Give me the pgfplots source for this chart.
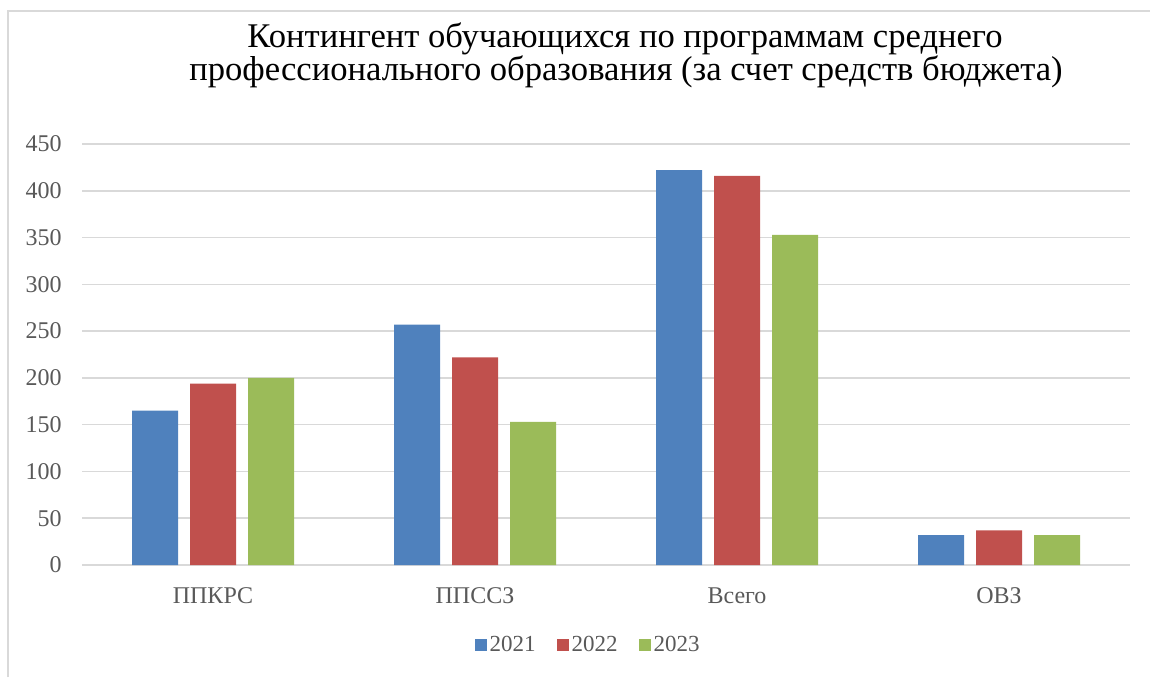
\documentclass[border=0pt]{standalone}
\usepackage{pgfplots}
\pgfplotsset{compat=1.18}
\usepackage{fontspec}
\setmainfont{Liberation Serif}

\definecolor{c21}{HTML}{4F81BD}
\definecolor{c22}{HTML}{C0504D}
\definecolor{c23}{HTML}{9BBB59}
\definecolor{gridc}{HTML}{D9D9D9}
\definecolor{labc}{HTML}{595959}

\pgfplotstableread{
x  a    b    c
0  165  194  200
1  257  222  153
2  422  416  353
3  32   37   32
}\contingent

\begin{document}
\begin{tikzpicture}[x=0.5pt,y=0.5pt]
\path[use as bounding box] (0,0) rectangle (1150,677);
\draw[gridc, line width=0.75pt] (8,0) -- (8,666) -- (1150,666);

\begin{axis}[
  at={(41pt,56pt)}, anchor=south west,
  scale only axis,
  width=524pt, height=210.5pt,
  xmin=-0.5, xmax=3.5,
  ymin=0, ymax=450,
  ybar=6pt, bar width=23pt,
  xtick={0,1,2,3},
  xticklabels={ППКРС,ППССЗ,Всего,ОВЗ},
  ytick={0,50,...,450},
  ymajorgrids,
  grid style={gridc, line width=0.75pt},
  axis line style={draw=none},
  major tick length=0pt,
  tick label style={font=\fontsize{12}{14}\selectfont, text=labc},
  yticklabel style={inner sep=0pt, xshift=-10pt},
  xticklabel style={inner sep=0pt, yshift=-11pt},
  /pgf/number format/assume math mode=true,
  legend columns=3,
  legend style={at={(0.4833,-0.19)}, anchor=center, draw=none,
    font=\fontsize{11.5}{13}\selectfont, text=labc,
    nodes={inner sep=1.5pt},
    /tikz/every even column/.append style={column sep=9pt}},
]
\addplot[fill=c21, draw=none, legend image code/.code={\fill[c21] (0pt,-3pt) rectangle (6pt,3pt);}] table[x=x, y=a] {\contingent};
\addplot[fill=c22, draw=none, legend image code/.code={\fill[c22] (0pt,-3pt) rectangle (6pt,3pt);}] table[x=x, y=b] {\contingent};
\addplot[fill=c23, draw=none, legend image code/.code={\fill[c23] (0pt,-3pt) rectangle (6pt,3pt);}] table[x=x, y=c] {\contingent};
\legend{2021,2022,2023}
\end{axis}

\node[anchor=base, font=\fontsize{17.3}{20}\selectfont] at (625,630) {Контингент обучающихся по программам среднего};
\node[anchor=base, font=\fontsize{17.3}{20}\selectfont] at (626,597) {профессионального образования (за счет средств бюджета)};
\end{tikzpicture}
\end{document}
